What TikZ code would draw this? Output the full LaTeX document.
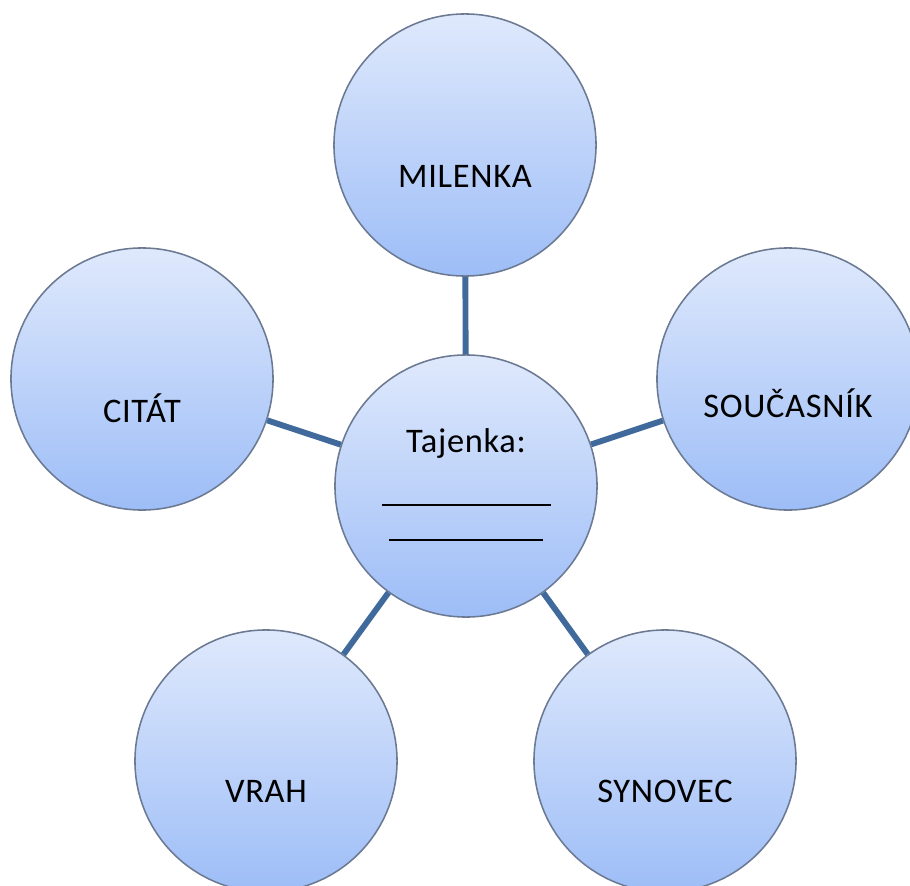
\documentclass[tikz,border=0pt]{standalone}
\usepackage{fontspec}
\setmainfont{Carlito}[LetterSpace=2]
\definecolor{ballTop}{HTML}{DFE9FC}
\definecolor{ballBottom}{HTML}{9DBDF7}
\definecolor{ballEdge}{HTML}{6B7A92}
\definecolor{spoke}{HTML}{3F6A9B}
\tikzset{
  ball/.style={circle,minimum size=6.55cm,inner sep=0pt,draw=ballEdge,line width=1.1pt,top color=ballTop,bottom color=ballBottom},
  word/.style={anchor=base,inner sep=0pt,font=\fontsize{24.5}{29}\selectfont},
  spokeline/.style={draw=spoke,line width=4.2pt}
}
\begin{document}
\begin{tikzpicture}[x=0.025cm,y=-0.025cm]
  \useasboundingbox (0,0) rectangle (910,886);
  \clip (0,0) rectangle (910,886);
  \node[ball] (tajenka) at (466,486) {};
  \node[ball] (milenka) at (465,145) {};
  \node[ball] (citat) at (142,379) {};
  \node[ball] (soucasnik) at (788,379) {};
  \node[ball] (vrah) at (266,761) {};
  \node[ball] (synovec) at (665,761) {};
  \draw[spokeline] (tajenka) -- (milenka);
  \draw[spokeline] (tajenka) -- (citat);
  \draw[spokeline] (tajenka) -- (soucasnik);
  \draw[spokeline] (tajenka) -- (vrah);
  \draw[spokeline] (tajenka) -- (synovec);
  \node[word] (milenkaText) at (465,188) {MILENKA};
  \node[word] (citatText) at (142,423) {CITÁT};
  \node[word] (soucasnikText) at (788,418) {SOUČASNÍK};
  \node[word] (vrahText) at (266,802) {VRAH};
  \node[word] (synovecText) at (665,802) {SYNOVEC};
  \node[word] (tajenkaText) at (466,452) {Tajenka:};
  \draw[line width=1.5pt] (382,505) -- (551,505);
  \draw[line width=1.5pt] (389,540) -- (543,540);
\end{tikzpicture}
\end{document}
